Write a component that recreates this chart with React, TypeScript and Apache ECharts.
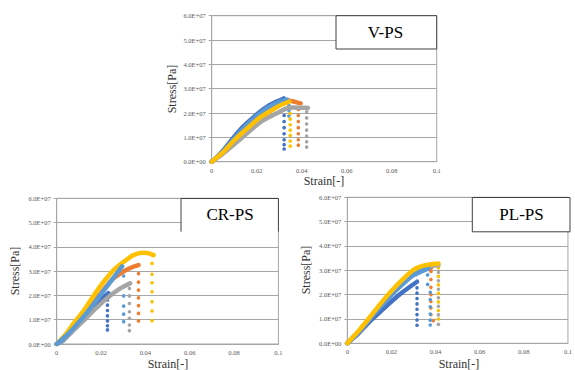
import React, { useEffect, useRef } from "react";
import * as echarts from "echarts";

// ---- tick labels ----
const xTickLabels = ["0", "0.02", "0.04", "0.06", "0.08", "0.1"];
const yTickLabels = ["0.0E+00", "1.0E+07", "2.0E+07", "3.0E+07", "4.0E+07", "5.0E+07", "6.0E+07"];
const panelTitles = ["V-PS", "CR-PS", "PL-PS"];

// stress values are in units of 1.0E+07 Pa, strain in [-]
// ---- V-PS ----
const vBlue = [[0, 0], [0.002, 0.15], [0.005, 0.45], [0.0096, 0.98], [0.014, 1.44], [0.018, 1.78], [0.0215, 2.05], [0.025, 2.28], [0.0289, 2.47], [0.032, 2.6]];
const vBlueDropX = 0.0322;
const vBlueDrop = [2.15, 1.9, 1.65, 1.4, 1.15, 0.9, 0.7, 0.52];
const vOrange = [[0, 0], [0.005, 0.38], [0.01, 0.85], [0.015, 1.28], [0.02, 1.68], [0.025, 2.02], [0.03, 2.33], [0.034, 2.52], [0.037, 2.46], [0.0395, 2.4]];
const vOrangeDropX = 0.0385;
const vOrangeDrop = [2.15, 1.9, 1.65, 1.4, 1.15, 0.9, 0.68];
const vGray = [[0, 0], [0.005, 0.33], [0.01, 0.72], [0.014, 1.03], [0.0215, 1.62], [0.0289, 1.99], [0.0333, 2.19], [0.036, 2.23], [0.04, 2.22], [0.0428, 2.21]];
const vGrayDropX = 0.0422;
const vGrayDrop = [2.05, 1.8, 1.55, 1.3, 1.05, 0.82, 0.6];
const vLight = [[0, 0], [0.005, 0.42], [0.01, 0.95], [0.015, 1.45], [0.02, 1.88], [0.025, 2.22], [0.03, 2.45], [0.0335, 2.55]];
const vLightDropX = 0.0343;
const vLightDrop = [2.32, 2.1, 1.88];
const vYellow = [[0, 0], [0.005, 0.38], [0.01, 0.88], [0.014, 1.22], [0.0215, 1.82], [0.0289, 2.24], [0.032, 2.38], [0.0345, 2.47]];
const vYellowDropX = 0.0349;
const vYellowDrop = [2.2, 1.98, 1.75, 1.52, 1.3, 1.08, 0.85, 0.64];

// ---- CR-PS ----
const crBlue = [[0, 0], [0.003, 0.15], [0.006, 0.45], [0.01, 0.85], [0.015, 1.35], [0.019, 1.75], [0.0233, 2.09]];
const crBlueDropX = 0.0229;
const crBlueDrop = [1.81, 1.6, 1.38, 1.16, 0.95, 0.75, 0.58];
const crOrange = [[0, 0], [0.004, 0.3], [0.008, 0.72], [0.012, 1.1], [0.019, 1.98], [0.025, 2.65], [0.031, 3.03], [0.0345, 3.18], [0.0369, 3.25]];
const crOrangeDropX = 0.0369;
const crOrangeDrop = [2.9, 2.55, 2.22, 1.9, 1.58, 1.26, 0.95];
const crGray = [[0, 0], [0.004, 0.25], [0.008, 0.6], [0.012, 0.95], [0.016, 1.32], [0.0226, 1.88], [0.028, 2.25], [0.0331, 2.5]];
const crGrayDropX = 0.0328;
const crGrayDrop = [2.29, 1.98, 1.67, 1.33, 1.06, 0.78, 0.55];
const crYellow = [[0, 0], [0.0045, 0.45], [0.008, 0.9], [0.012, 1.35], [0.016, 1.9], [0.02, 2.42], [0.0263, 3.1], [0.0324, 3.53], [0.0346, 3.66], [0.0384, 3.76], [0.041, 3.75], [0.0437, 3.66]];
const crYellowDropX = 0.043;
const crYellowDrop = [3.32, 2.87, 2.52, 2.15, 1.74, 1.36, 0.96];
const crLight = [[0, 0], [0.005, 0.4], [0.01, 0.9], [0.015, 1.45], [0.02, 2.05], [0.025, 2.65], [0.0295, 3.2]];
const crLightDropX = 0.0302;
const crLightDrop = [2.8, 2.36, 1.98, 1.56, 1.23, 0.92];

// ---- PL-PS ----
const plBlue = [[0, 0], [0.005, 0.4], [0.01, 0.88], [0.015, 1.3], [0.02, 1.72], [0.025, 2.1], [0.0316, 2.53]];
const plBlueDropX = 0.0316;
const plBlueDrop = [2.28, 2.06, 1.84, 1.62, 1.4, 1.18, 0.96, 0.74];
const plOrange = [[0, 0], [0.005, 0.45], [0.01, 1.0], [0.015, 1.55], [0.02, 2.05], [0.025, 2.5], [0.03, 2.88], [0.034, 3.03], [0.038, 3.1]];
const plOrangeDrop = [[0.0379, 2.95], [0.0379, 2.62], [0.0379, 2.3], [0.0379, 2.0], [0.0379, 1.72], [0.0379, 1.45], [0.0379, 1.18], [0.039, 0.93]];
const plGray = [[0, 0], [0.005, 0.45], [0.01, 1.0], [0.015, 1.55], [0.02, 2.05], [0.025, 2.52], [0.03, 2.95], [0.034, 3.12], [0.0413, 3.22]];
const plGrayDropX = 0.0413;
const plGrayDrop = [2.92, 2.57, 2.22, 1.87, 1.52, 1.17, 0.78];
const plYellow = [[0, 0], [0.005, 0.5], [0.01, 1.05], [0.015, 1.62], [0.02, 2.15], [0.025, 2.62], [0.03, 3.02], [0.034, 3.18], [0.038, 3.25], [0.0413, 3.28]];
const plYellowDropX = 0.0413;
const plYellowDrop = [3.1, 2.75, 2.4, 2.05, 1.7, 1.35, 1.0];
const plLight = [[0, 0], [0.005, 0.45], [0.01, 0.98], [0.015, 1.5], [0.02, 1.98], [0.025, 2.42], [0.03, 2.8], [0.0368, 3.08]];
const plLightDrop = [[0.0364, 2.81], [0.0364, 2.42], [0.0376, 2.1], [0.0376, 1.8], [0.0376, 1.5], [0.0376, 1.2], [0.0376, 0.95], [0.0376, 0.75]];

const C = {
  blue: "#4472C4",
  orange: "#ED7D31",
  gray: "#A5A5A5",
  yellow: "#FFC000",
  light: "#5B9BD5",
};

const SERIF = "Liberation Serif";
const GRID_COLOR = "#a6a6a6";

function curve(data: number[][], color: string, i: number) {
  return {
    type: "line",
    xAxisIndex: i,
    yAxisIndex: i,
    data,
    symbol: "none",
    smooth: 0.2,
    silent: true,
    lineStyle: { color, width: 4.5, cap: "round", join: "round" },
    itemStyle: { color },
  };
}

function drops(x: number, values: number[], color: string, i: number) {
  return dropPts(values.map((v) => [x, v]), color, i);
}

function dropPts(pts: number[][], color: string, i: number) {
  return {
    type: "scatter",
    xAxisIndex: i,
    yAxisIndex: i,
    data: pts,
    symbolSize: 3.6,
    silent: true,
    itemStyle: { color, opacity: 1 },
  };
}

export default function App() {
  const ref = useRef<HTMLDivElement>(null);

  useEffect(() => {
    if (!ref.current) return;
    const chart = echarts.init(ref.current, undefined, { renderer: "svg" });

    const grids = [
      { left: 211.7, top: 15.7, width: 225, height: 146 },
      { left: 56.7, top: 198.3, width: 221.7, height: 145.7 },
      { left: 347.3, top: 197.3, width: 222.7, height: 146 },
    ];

    const xAxes = grids.map((_, i) => ({
      type: "value",
      gridIndex: i,
      min: 0,
      max: 0.1,
      interval: 0.02,
      axisLine: { show: true, lineStyle: { color: GRID_COLOR } },
      axisTick: { show: false },
      splitLine: { show: false },
      axisLabel: {
        fontFamily: SERIF,
        fontSize: 6.5,
        color: "#595959",
        margin: 5,
        formatter: (v: number) => xTickLabels[Math.round(v / 0.02)] ?? "",
      },
    }));

    const yAxes = grids.map((_, i) => ({
      type: "value",
      gridIndex: i,
      min: 0,
      max: 6,
      interval: 1,
      axisLine: { show: true, lineStyle: { color: GRID_COLOR } },
      axisTick: { show: true, length: 3, lineStyle: { color: GRID_COLOR } },
      splitLine: { show: true, lineStyle: { color: GRID_COLOR, width: 1 } },
      axisLabel: {
        fontFamily: SERIF,
        fontSize: 6.5,
        color: "#595959",
        margin: 6,
        formatter: (v: number) => yTickLabels[Math.round(v)] ?? "",
      },
    }));

    const series: any[] = [
      // V-PS
      curve(vBlue, C.blue, 0),
      drops(vBlueDropX, vBlueDrop, C.blue, 0),
      curve(vOrange, C.orange, 0),
      drops(vOrangeDropX, vOrangeDrop, C.orange, 0),
      curve(vGray, C.gray, 0),
      drops(vGrayDropX, vGrayDrop, C.gray, 0),
      curve(vLight, C.light, 0),
      drops(vLightDropX, vLightDrop, C.light, 0),
      curve(vYellow, C.yellow, 0),
      drops(vYellowDropX, vYellowDrop, C.yellow, 0),
      // CR-PS
      curve(crBlue, C.blue, 1),
      drops(crBlueDropX, crBlueDrop, C.blue, 1),
      curve(crOrange, C.orange, 1),
      drops(crOrangeDropX, crOrangeDrop, C.orange, 1),
      curve(crGray, C.gray, 1),
      drops(crGrayDropX, crGrayDrop, C.gray, 1),
      curve(crYellow, C.yellow, 1),
      drops(crYellowDropX, crYellowDrop, C.yellow, 1),
      curve(crLight, C.light, 1),
      drops(crLightDropX, crLightDrop, C.light, 1),
      // PL-PS
      curve(plBlue, C.blue, 2),
      drops(plBlueDropX, plBlueDrop, C.blue, 2),
      curve(plOrange, C.orange, 2),
      dropPts(plOrangeDrop, C.orange, 2),
      curve(plGray, C.gray, 2),
      drops(plGrayDropX, plGrayDrop, C.gray, 2),
      curve(plLight, C.light, 2),
      dropPts(plLightDrop, C.light, 2),
      curve(plYellow, C.yellow, 2),
      drops(plYellowDropX, plYellowDrop, C.yellow, 2),
    ];

    const titleStyle = { fontFamily: SERIF, fontSize: 17, fill: "#000", align: "center", verticalAlign: "middle" };
    const axisTitle = { fontFamily: SERIF, fontSize: 12, fill: "#333", align: "center", verticalAlign: "middle" };

    const graphic: any[] = [
      // V-PS box
      { type: "rect", shape: { x: 336, y: 15.7, width: 100.7, height: 33.3 }, style: { fill: "#fff", stroke: "#404040", lineWidth: 1 }, z: 10 },
      { type: "text", x: 385.5, y: 32.5, style: { ...titleStyle, text: panelTitles[0] }, z: 11 },
      // CR-PS box
      { type: "rect", shape: { x: 181, y: 198.3, width: 97.4, height: 33.4 }, style: { fill: "#fff", stroke: null }, z: 10 },
      { type: "polyline", shape: { points: [[181, 231.7], [181, 198.5], [278.4, 198.5], [278.4, 231.7]] }, style: { fill: null, stroke: "#404040", lineWidth: 1 }, z: 11 },
      { type: "text", x: 230, y: 214.5, style: { ...titleStyle, text: panelTitles[1] }, z: 11 },
      // PL-PS box
      { type: "rect", shape: { x: 472.3, y: 197.5, width: 97.7, height: 34.3 }, style: { fill: "#fff", stroke: "#404040", lineWidth: 1 }, z: 10 },
      { type: "text", x: 521.5, y: 214.5, style: { ...titleStyle, text: panelTitles[2] }, z: 11 },
      // axis titles
      { type: "text", x: 172, y: 89, rotation: Math.PI / 2, style: { ...axisTitle, text: "Stress[Pa]" } },
      { type: "text", x: 324, y: 181, style: { ...axisTitle, text: "Strain[-]" } },
      { type: "text", x: 15, y: 271, rotation: Math.PI / 2, style: { ...axisTitle, text: "Stress[Pa]" } },
      { type: "text", x: 168, y: 363.5, style: { ...axisTitle, text: "Strain[-]" } },
      { type: "text", x: 306, y: 270, rotation: Math.PI / 2, style: { ...axisTitle, text: "Stress[Pa]" } },
      { type: "text", x: 459, y: 363.5, style: { ...axisTitle, text: "Strain[-]" } },
    ];

    chart.setOption({
      animation: false,
      backgroundColor: "#fff",
      grid: grids.map((g) => ({ ...g, show: true, borderColor: GRID_COLOR, borderWidth: 1, backgroundColor: "transparent" })),
      xAxis: xAxes,
      yAxis: yAxes,
      series,
      graphic,
    });

    return () => chart.dispose();
  }, []);

  return (
    <div
      ref={ref}
      style={{ position: "fixed", left: 0, top: 0, width: 575, height: 370, background: "#fff" }}
    />
  );
}
